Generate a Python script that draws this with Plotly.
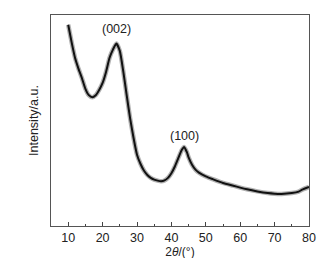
import plotly.graph_objects as go

# 2theta (degrees) and intensity (arbitrary units)
two_theta = [10, 11, 12, 13, 14, 15, 16, 17, 18, 19, 20, 21, 22, 23, 24, 25, 26, 27, 28, 29, 30,
             31, 32, 33, 34, 35, 36, 37, 38, 39, 40, 41, 42, 43, 43.7, 44.5, 45, 46, 47, 48, 50,
             52, 55, 58, 60, 62, 65, 68, 70, 72, 75, 77, 78, 80]
intensity = [95.4, 87, 79.6, 74.5, 70, 65, 62, 61, 62, 64.5, 67.8, 73, 79.6, 83.6, 86.5, 83, 73.4, 62, 51, 41.7, 33.8,
             29.5, 26.3, 24.2, 22.8, 22, 21.5, 21.2, 21.6, 22.8, 25, 28.2, 32.2, 36, 37.5, 35, 32.5, 29, 26.7, 25.3, 23.5,
             22.2, 20.4, 19.1, 18.2, 17.4, 16.4, 15.6, 15.3, 15.2, 15.6, 16.3, 17.2, 18.5]

peak_labels = ["(002)", "(100)"]
peak_x = [23.9, 43.8]
peak_y = [93.6, 42.6]

fig = go.Figure()
# soft halo imitating the noisy band
fig.add_trace(go.Scatter(x=two_theta, y=intensity, mode="lines",
                         line=dict(color="rgba(60,60,60,0.4)", width=4.5, shape="spline", smoothing=0.5),
                         hoverinfo="skip", showlegend=False))
fig.add_trace(go.Scatter(x=two_theta, y=intensity, mode="lines",
                         line=dict(color="#111111", width=2, shape="spline", smoothing=0.5),
                         showlegend=False))

for t, xx, yy in zip(peak_labels, peak_x, peak_y):
    fig.add_annotation(x=xx, y=yy, text=t, showarrow=False,
                       font=dict(family="Liberation Sans, Arial", size=12.5, color="#222"))

fig.update_layout(
    width=326, height=258,
    margin=dict(l=43, r=25, t=7, b=40),
    paper_bgcolor="white", plot_bgcolor="white",
    font=dict(family="Liberation Sans, Arial", size=12.5, color="#222"),
    xaxis=dict(range=[5, 80], tickvals=[10, 20, 30, 40, 50, 60, 70, 80],
               ticks="inside", ticklen=4, tickcolor="#444", tickwidth=1,
               minor=dict(tickvals=[15, 25, 35, 45, 55, 65, 75], ticks="inside", ticklen=2, tickcolor="#444"),
               showgrid=False, zeroline=False, showline=True, linecolor="#555", linewidth=1, mirror=True,
               title=dict(text="2<i>θ</i>/(°)", standoff=0, font=dict(size=12)),
               tickfont=dict(size=12.5)),
    yaxis=dict(range=[0, 100], showticklabels=False, ticks="", showgrid=False, zeroline=False,
               showline=True, linecolor="#555", linewidth=1, mirror=True,
               title=dict(text="Intensity/a.u.", standoff=8, font=dict(size=12.5))),
)

fig.write_html("out.html")
